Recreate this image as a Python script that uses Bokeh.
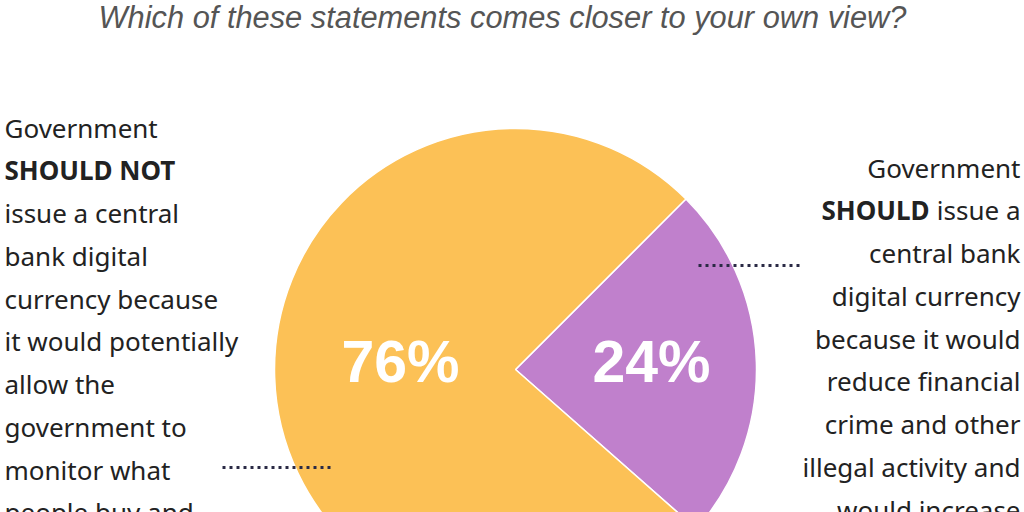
import numpy as np
from bokeh.plotting import figure
from bokeh.models import ColumnDataSource, Range1d
from bokeh.core.properties import value
from bokeh.embed import file_html
from bokeh.resources import INLINE

# ---- data ----
title_text = "Which of these statements comes closer to your own view?"
categories = ["Should", "Should not"]
values = [24, 76]
pct_labels = ["24%", "76%"]
slice_colors = ["#C080CC", "#FCC156"]

left_lines = ["Government", "SHOULD NOT", "issue a central", "bank digital",
              "currency because", "it would potentially", "allow the",
              "government to", "monitor what", "people buy and"]
left_bold = [False, True, False, False, False, False, False, False, False, False]

right_lines = ["Government", "issue a", "central bank", "digital currency",
               "because it would", "reduce financial", "crime and other",
               "illegal activity and", "would increase"]
right_bold_word = "SHOULD"

W, H = 1024, 512
def py(y):  # page y (top-down) -> data y
    return 512 - y

p = figure(width=W, height=H, output_backend="svg", toolbar_location=None,
           x_range=Range1d(0, 1024), y_range=Range1d(0, 512),
           min_border=0, outline_line_color=None)
p.axis.visible = False
p.grid.visible = False
p.background_fill_color = "white"
p.border_fill_color = "white"

# ---- pie ----
cx, cy, r = 515, py(369), 241
vals = np.array(values, dtype=float)
ang = vals / vals.sum() * 2 * np.pi
base = np.pi / 4
cum = np.cumsum(ang)
ends = base - (cum - ang)
starts = base - cum
src = ColumnDataSource(dict(cat=categories, start=starts, end=ends, color=slice_colors))
p.wedge(x=cx, y=cy, radius=r, radius_units="screen", start_angle="start", end_angle="end",
        direction="anticlock", fill_color="color", line_color="white", line_width=1.5,
        source=src)

lab = ColumnDataSource(dict(x=[651, 400], y=[py(361), py(361)], t=pct_labels))
p.text(x="x", y="y", text="t", source=lab, text_color="white",
       text_font=value("Liberation Sans"), text_font_style="bold",
       text_font_size="59px", text_align="center", text_baseline="middle")

# ---- title ----
p.text(x=[502], y=[py(17)], text=[title_text], text_color="#555555",
       text_font=value("Liberation Sans"), text_font_style="italic",
       text_font_size="30.8px", text_align="center", text_baseline="alphabetic")

# ---- left text ----
lh = 42.75
lx = 4
for i, (t, b) in enumerate(zip(left_lines, left_bold)):
    p.text(x=[lx], y=[py(127 + i * lh)], text=[t], text_color="#222222",
           text_font=value("Noto Sans"), text_font_style="bold" if b else "normal",
           text_font_size="26px", text_align="left", text_baseline="alphabetic")

# ---- right text ----
rx = 1020
for i, t in enumerate(right_lines):
    p.text(x=[rx], y=[py(167 + i * lh)], text=[t], text_color="#222222",
           text_font=value("Noto Sans"), text_font_size="26px",
           text_align="right", text_baseline="alphabetic")
p.text(x=[929], y=[py(167 + lh)], text=[right_bold_word], text_color="#222222",
       text_font=value("Noto Sans"), text_font_style="bold", text_font_size="26px",
       text_align="right", text_baseline="alphabetic")

# ---- leader lines ----
p.line(x=[222, 334], y=[py(467), py(467)], line_color="#2A2A45", line_width=3,
       line_dash="3 4")
p.line(x=[698, 803], y=[py(265), py(265)], line_color="#2A2A45", line_width=3,
       line_dash="3 4")

open("out.html", "w").write(file_html(p, INLINE))
